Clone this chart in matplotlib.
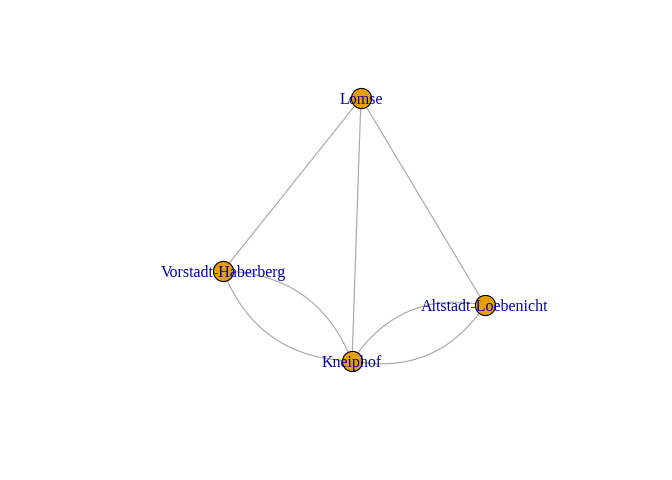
import matplotlib.pyplot as plt
import numpy as np
from matplotlib.path import Path
from matplotlib.patches import PathPatch

# layout (pixel-like coordinates, y downward)
nodes = ["Lomse", "Vorstadt-Haberberg", "Altstadt-Loebenicht", "Kneiphof"]
node_x = [361, 223, 485, 352]
node_y = [98, 271, 305, 361]

# edges (bridges) with curvature
edge_from = [0, 0, 0, 1, 1, 2, 2]
edge_to = [1, 3, 2, 3, 3, 3, 3]
edge_curve = [0.0, 0.0, 0.0, 0.33, -0.33, 0.33, -0.33]

fig = plt.figure(figsize=(6.72, 4.8), dpi=100)
ax = fig.add_axes([0, 0, 1, 1])
ax.set_xlim(0, 672)
ax.set_ylim(480, 0)
ax.axis("off")

for a, b, c in zip(edge_from, edge_to, edge_curve):
    x0, y0 = node_x[a], node_y[a]
    x1, y1 = node_x[b], node_y[b]
    mx, my = (x0 + x1) / 2, (y0 + y1) / 2
    dx, dy = x1 - x0, y1 - y0
    cx, cy = mx - c * dy, my + c * dx
    path = Path([(x0, y0), (cx, cy), (x1, y1)],
                [Path.MOVETO, Path.CURVE3, Path.CURVE3])
    ax.add_patch(PathPatch(path, fc="none", ec="#a6a6a6", lw=0.8, zorder=1))

ax.scatter(node_x, node_y, s=210, c="#E69F00", edgecolors="black",
           linewidths=0.8, zorder=2)

for name, x, y in zip(nodes, node_x, node_y):
    ax.text(x, y + 2, name, ha="center", va="center", color="#0000A0",
            fontsize=11.5, family="Liberation Serif", zorder=3)

fig.savefig("out.png", dpi=100)
